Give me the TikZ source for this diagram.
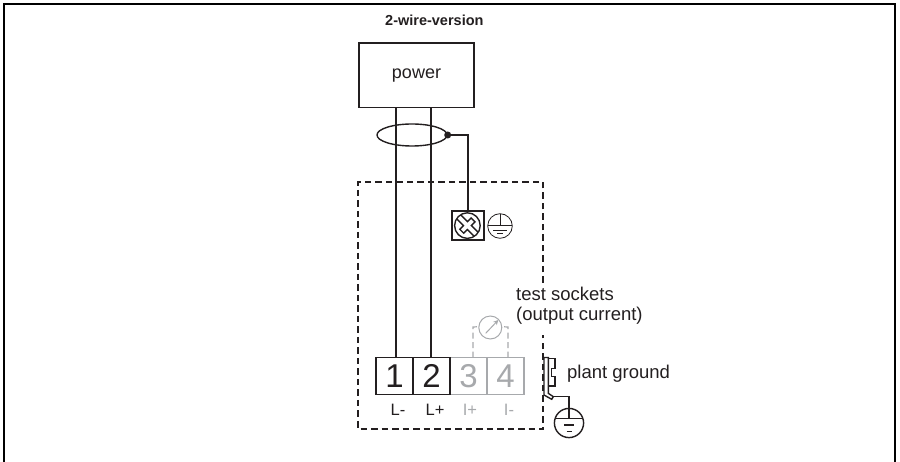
\documentclass[tikz,border=0pt]{standalone}
\usetikzlibrary{shapes.geometric,arrows.meta}
\usepackage{fontspec}
\setmainfont{Liberation Sans}
\definecolor{ink}{HTML}{231F20}
\definecolor{fade}{HTML}{A7A9AC}
\tikzset{
  x=1pt,y=-1pt,
  wire/.style={draw=ink,line width=1.4pt},
  thinw/.style={draw=ink,line width=.8pt},
  dashbox/.style={draw=ink,line width=1.3pt,dash pattern=on 6.5pt off 4pt},
  fadedash/.style={draw=fade,line width=1.2pt,dash pattern=on 6pt off 3.5pt},
  lbl/.style={inner sep=0pt,text=ink,font=\fontsize{18.5}{20}\selectfont},
  smalllbl/.style={inner sep=0pt,text=ink,font=\fontsize{16.5}{18}\selectfont},
  term/.style={draw=ink,line width=1.4pt,minimum width=37pt,minimum height=36.6pt,inner sep=0pt,text=ink,font=\fontsize{33}{35}\selectfont},
  termf/.style={term,draw=fade,text=fade},
}
\begin{document}
\begin{tikzpicture}
\useasboundingbox (0,0) rectangle (900,462);
\draw[black,line width=2.4pt] (4,462) -- (4,4) -- (894.7,4) -- (894.7,462);
\node[inner sep=0pt,text=ink,font=\bfseries\fontsize{14.5}{16}\selectfont,anchor=base west] (title) at (385,26) {2-wire-version};
\node[draw=ink,line width=1.4pt,minimum width=115pt,minimum height=64.7pt,inner sep=0pt,text=ink,font=\fontsize{18}{20}\selectfont] (power) at (416.5,75.35) {power};
\draw[dashbox] (543,283) -- (543,182) -- (358,182) -- (358,429) -- (543,429) -- (543,335);
\node[termf] (t3) at (468.5,376) {3};
\node[termf] (t4) at (505.5,376) {4};
\node[term] (t1) at (394.5,376) {1};
\node[term] (t2) at (431.5,376) {2};
\draw[wire] ([xshift=1.5pt]t1.north) -- ([xshift=1.5pt]t1.north |- power.south);
\draw[wire] ([xshift=-.5pt]t2.north) -- ([xshift=-.5pt]t2.north |- power.south);
\node[draw=ink,line width=1.4pt,ellipse,minimum width=70pt,minimum height=22pt,inner sep=0pt] (shieldring) at (412,135) {};
\coordinate (shield) at (447.7,135);
\fill[ink] (shield) circle (3.5);
\node[draw=ink,line width=1.4pt,minimum width=32pt,minimum height=29pt,inner sep=0pt] (screw) at (467.9,225.5) {};
\draw[wire] (shield) -| (screw.north);
\draw[wire] (467.4,225.6) circle (12.8);
\begin{scope}[shift={(467.4,225.6)},rotate=-45]
\draw[wire,line join=miter] (-12.3,-2.8)--(-2.8,-2.8)--(-2.8,-8)--(2.8,-8)--(2.8,-2.8)--(12.3,-2.8)
  (-12.3,2.8)--(-2.8,2.8)--(-2.8,8)--(2.8,8)--(2.8,2.8)--(12.3,2.8);
\end{scope}
\draw[thinw] (500,226) circle (12.3);
\draw[thinw] (500,213.7)--(500,225) (488,225)--(512,225) (493,230)--(507,230);
\draw[draw=ink,line width=1pt] (497,234)--(503,234);
\node[lbl,anchor=base west] (ts) at (516,301) {test sockets};
\node[lbl,anchor=base west] (oc) at (516,321) {(output current)};
\node[lbl,anchor=base west] (pg) at (567,378) {plant ground};
\node[draw=fade,line width=1pt,circle,minimum size=23pt,inner sep=0pt] (m) at (490.3,327.5) {};
\draw[fade,line width=1pt,-{Stealth[length=5pt,width=5pt]}] (485.7,333.3)--(498.3,320);
\coordinate (mw) at (478.8,326.7);
\coordinate (me) at (501.8,326.7);
\draw[fadedash] (473,357.7) -- (473,327) -- (mw);
\draw[fadedash] (508,357.7) -- (508,327) -- (me);
\node[smalllbl,anchor=base] (l1) at (398,415) {L-};
\node[smalllbl,anchor=base] (l2) at (435,415) {L+};
\node[smalllbl,text=fade,anchor=base] (l3) at (470,415) {I+};
\node[smalllbl,text=fade,anchor=base] (l4) at (509,415) {I-};
% clip
\draw[wire,line join=miter,fill=white] (544,357.5)--(548.3,357.5)--(548.3,393.3)--(553.3,396.7)--(551.7,399.3)--(544,395)--cycle;
\draw[wire] (548.3,358.5)--(555,358.5)--(555,368.3)--(551.7,368.3)--(551.7,376.7)--(555,376.7)--(555,386)--(548.3,386);
\draw[wire] (553.3,396.7)--(569,396.7)--(569,418.5);
\draw[wire] (569,423) circle (14.6);
\draw[wire] (555.5,418.5)--(582.5,418.5) (564,425)--(574,425) (566.5,431.5)--(571.5,431.5);
\end{tikzpicture}
\end{document}
